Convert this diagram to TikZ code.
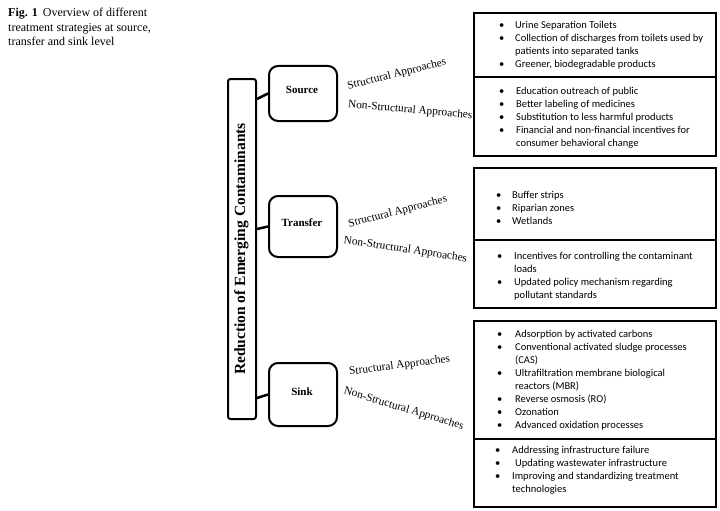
\documentclass[tikz,border=0pt]{standalone}
\usepackage{fontspec}
\setmainfont{Liberation Serif}
\newfontfamily\calib{Carlito}
\usetikzlibrary{calc}
\newcommand\bulit[1]{\makebox[#1pt][l]{•}}
\begin{document}
\begin{tikzpicture}[x=1pt,y=-1pt,
  tallbox/.style={draw, line width=2pt, rounded corners=2.5pt, minimum width=28pt, minimum height=340pt, inner sep=0pt, anchor=north west},
  levelbox/.style={draw, line width=2pt, rounded corners=9pt, minimum width=68pt, inner sep=0pt, anchor=north west},
  grpbox/.style={draw, line width=1.6pt, minimum width=242pt, inner sep=0pt, anchor=north west},
  levellbl/.style={font=\bfseries\fontsize{11}{13}\selectfont, inner sep=0pt},
  applbl/.style={font=\fontsize{11.3}{13}\selectfont, inner sep=0pt, anchor=base},
  itemtxt/.style={font=\calib\fontsize{10.5}{13}\selectfont, inner sep=0pt, anchor=north west},
  link/.style={line width=2.5pt}
]
\useasboundingbox (0,0) rectangle (720,511);

% caption
\node[inner sep=0pt, anchor=north west, font=\fontsize{12}{14.5}\selectfont] (cap) at (8,6.2)
 {\begin{tabular}{@{}l@{}}\textbf{Fig. 1}\hspace{5pt}Overview of different\\treatment strategies at source,\\transfer and sink level\end{tabular}};

% tall box
\node[tallbox] (tall) at (227,78) {};
\node[rotate=90, inner sep=0pt, font=\bfseries\fontsize{15.5}{18}\selectfont] (talllbl) at (241.5,249) {Reduction of Emerging Contaminants};

% level boxes
\node[levelbox, minimum height=55pt] (src) at (268,65) {};
\node[levelbox, minimum height=61pt] (trf) at (268,195) {};
\node[levelbox, minimum height=63pt] (snk) at (268,362) {};
\node[levellbl] (srcl) at (302,89.5) {Source};
\node[levellbl] (trfl) at (302,222.5) {Transfer};
\node[levellbl] (snkl) at (302,391.5) {Sink};

% connectors
\draw[link] ([yshift=-21pt]tall.north east) -- (src.west);
\draw[link] ([yshift=-151pt]tall.north east) -- (trf.west);
\draw[link] ([yshift=-320pt]tall.north east) -- (snk.west);

% approach labels
\node[applbl, rotate=14] (a1) at (397.5,77) {Structural Approaches};
\node[applbl, rotate=-5] (a2) at (410,113) {Non-Structural Approaches};
\node[applbl, rotate=14.5] (a3) at (398.5,214.5) {Structural Approaches};
\node[applbl, rotate=-8.7] (a4) at (405,252.5) {Non-Structural Approaches};
\node[applbl, rotate=7.3] (a5) at (400,368.5) {Structural Approaches};
\node[applbl, rotate=-16.7] (a6) at (403,411.5) {Non-Structural Approaches};

% group boxes
\node[grpbox, minimum height=64pt] (ss) at (473,12) {};
\node[grpbox, minimum height=79pt] (sn) at (473,76) {};
\node[grpbox, minimum height=72pt] (ts) at (473,167) {};
\node[grpbox, minimum height=68pt] (tn) at (473,239) {};
\node[grpbox, minimum height=118pt] (ks) at (473,320) {};
\node[grpbox, minimum height=68pt] (kn) at (473,438) {};

% items
\node[itemtxt] (ssi) at (499,18.8) {\begin{tabular}{@{}l@{}}
\bulit{16}Urine Separation Toilets\\
\bulit{16}Collection of discharges from toilets used by\\
\hspace*{16pt}patients into separated tanks\\
\bulit{16}Greener, biodegradable products\end{tabular}};
\node[itemtxt] (sni) at (499,84.8) {\begin{tabular}{@{}l@{}}
\bulit{17}Education outreach of public\\
\bulit{17}Better labeling of medicines\\
\bulit{17}Substitution to less harmful products\\
\bulit{17}Financial and non-financial incentives for\\
\hspace*{17pt}consumer behavioral change\end{tabular}};
\node[itemtxt] (tsi) at (496,188.8) {\begin{tabular}{@{}l@{}}
\bulit{16}Buffer strips\\
\bulit{16}Riparian zones\\
\bulit{16}Wetlands\end{tabular}};
\node[itemtxt] (tni) at (497,249.8) {\begin{tabular}{@{}l@{}}
\bulit{17}Incentives for controlling the contaminant\\
\hspace*{17pt}loads\\
\bulit{17}Updated policy mechanism regarding\\
\hspace*{17pt}pollutant standards\end{tabular}};
\node[itemtxt] (ksi) at (497,327.8) {\begin{tabular}{@{}l@{}}
\bulit{18}Adsorption by activated carbons\\
\bulit{18}Conventional activated sludge processes\\
\hspace*{18pt}(CAS)\\
\bulit{18}Ultrafiltration membrane biological\\
\hspace*{18pt}reactors (MBR)\\
\bulit{18}Reverse osmosis (RO)\\
\bulit{18}Ozonation\\
\bulit{18}Advanced oxidation processes\end{tabular}};
\node[itemtxt] (kni) at (495,443.8) {\begin{tabular}{@{}l@{}}
\bulit{17}Addressing infrastructure failure\\
\bulit{17}\hspace{3pt}Updating wastewater infrastructure\\
\bulit{17}Improving and standardizing treatment\\
\hspace*{17pt}technologies\end{tabular}};
\end{tikzpicture}
\end{document}
